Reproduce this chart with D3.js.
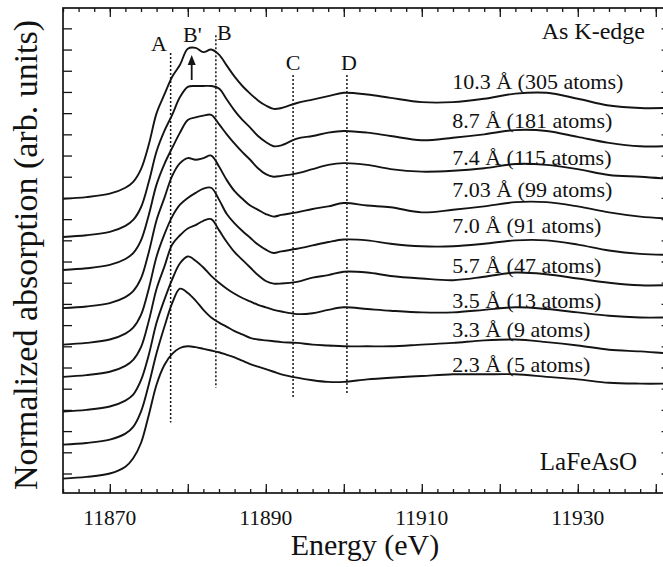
<!DOCTYPE html>
<html>
<head>
<meta charset="utf-8">
<script src="https://cdn.jsdelivr.net/npm/d3@7"></script>
<style>
  body { margin: 0; background: #fff; }
  text { font-family: 'Liberation Serif'; }
</style>
</head>
<body>
<svg id="chart" width="663" height="567"></svg>
<script>
// Photon energy grid (eV)
const energy = [11864, 11867, 11870, 11872, 11873, 11874, 11875, 11876, 11877, 11878,
  11879, 11880, 11881, 11882, 11883, 11884, 11885, 11886, 11887, 11888,
  11889, 11890, 11891, 11892, 11894, 11896, 11898, 11900, 11903, 11906,
  11910, 11914, 11918, 11922, 11926, 11930, 11934, 11938, 11941];

// Calculated As K-edge absorption for clusters of increasing radius
const muR103 = [0,0.02,0.06,0.13,0.20,0.35,0.64,1.01,1.23,1.44, 1.58,1.77,1.78,1.73,1.76,1.70,1.57,1.44,1.33,1.24, 1.16,1.10,1.06,1.07,1.13,1.17,1.21,1.25,1.23,1.19, 1.14,1.14,1.18,1.24,1.25,1.18,1.10,1.07,1.07];
const muR87  = [0,0.02,0.06,0.13,0.20,0.35,0.65,1.01,1.25,1.44, 1.65,1.77,1.78,1.78,1.78,1.75,1.62,1.49,1.38,1.29, 1.19,1.12,1.07,1.08,1.16,1.19,1.23,1.25,1.23,1.19, 1.14,1.17,1.21,1.26,1.25,1.18,1.11,1.07,1.07];
const muR74  = [0,0.02,0.06,0.13,0.20,0.35,0.65,1.01,1.25,1.44, 1.62,1.77,1.80,1.82,1.83,1.72,1.60,1.49,1.39,1.30, 1.20,1.13,1.10,1.11,1.14,1.19,1.24,1.26,1.24,1.19, 1.16,1.17,1.20,1.25,1.24,1.19,1.12,1.10,1.08];
const muR703 = [0,0.02,0.06,0.13,0.20,0.35,0.66,1.04,1.30,1.56, 1.71,1.77,1.75,1.77,1.80,1.67,1.51,1.38,1.29,1.21, 1.16,1.11,1.08,1.10,1.13,1.17,1.20,1.24,1.21,1.19, 1.13,1.16,1.20,1.25,1.25,1.20,1.13,1.08,1.06];
const muR70  = [0,0.02,0.06,0.13,0.20,0.35,0.66,1.04,1.30,1.51, 1.65,1.73,1.79,1.84,1.85,1.71,1.54,1.43,1.34,1.26, 1.18,1.12,1.08,1.10,1.13,1.17,1.21,1.24,1.23,1.19, 1.16,1.16,1.19,1.23,1.23,1.18,1.11,1.07,1.06];
const muR57  = [0,0.02,0.06,0.13,0.20,0.35,0.66,1.04,1.30,1.56, 1.67,1.75,1.79,1.84,1.86,1.73,1.59,1.47,1.38,1.29, 1.20,1.13,1.10,1.10,1.12,1.17,1.20,1.24,1.23,1.19, 1.16,1.14,1.18,1.23,1.21,1.16,1.11,1.08,1.08];
const muR35  = [0,0.02,0.06,0.13,0.20,0.37,0.67,1.05,1.32,1.56, 1.75,1.83,1.78,1.70,1.60,1.52,1.45,1.39,1.34,1.30, 1.26,1.23,1.20,1.18,1.15,1.16,1.20,1.23,1.21,1.19, 1.17,1.17,1.20,1.23,1.21,1.17,1.13,1.11,1.11];
const muR33  = [0,0.02,0.06,0.13,0.21,0.39,0.71,1.08,1.39,1.67, 1.84,1.79,1.70,1.59,1.50,1.44,1.39,1.34,1.30,1.26, 1.24,1.23,1.22,1.21,1.20,1.18,1.17,1.16,1.16,1.16, 1.18,1.20,1.23,1.24,1.21,1.17,1.12,1.10,1.08];
const muR23  = [0,0.02,0.06,0.14,0.24,0.42,0.75,1.11,1.34,1.47, 1.54,1.56,1.55,1.53,1.51,1.49,1.46,1.43,1.39,1.35, 1.32,1.29,1.26,1.23,1.19,1.16,1.14,1.14,1.17,1.19, 1.21,1.23,1.23,1.23,1.20,1.17,1.13,1.12,1.12];

// Cluster labels, vertical stacking offsets and label heights (absorption units)
const clusterLabels = ["10.3 Å (305 atoms)", "8.7 Å (181 atoms)", "7.4 Å (115 atoms)",
  "7.03 Å (99 atoms)", "7.0 Å (91 atoms)", "5.7 Å (47 atoms)",
  "3.5 Å (13 atoms)", "3.3 Å (9 atoms)", "2.3 Å (5 atoms)"];
const offsets = [3.49, 3.04, 2.65, 2.20, 1.77, 1.39, 0.98, 0.59, 0.19];
const labelLevels = [4.78, 4.32, 3.89, 3.51, 3.09, 2.61, 2.20, 1.86, 1.45];

// Spectral features marked by dotted lines: energy and vertical extent
const featureEnergy = [11877.8, 11883.6, 11893.5, 11900.4];
const featureTop = [5.21, 5.42, 4.95, 4.95];
const featureBottom = [0.85, 1.26, 1.14, 1.20];
const arrowEnergy = 11880.5;

// Axis ticks
const xLabelTicks = [11870, 11890, 11910, 11930];
const xMajorTicks = d3.range(11870, 11941, 10);
const xMinorTicks = d3.range(11864, 11941, 2);
const yTicks = d3.range(0.25, 5.6, 0.25);

const muSeries = [muR103, muR87, muR74, muR703, muR70, muR57, muR35, muR33, muR23];
const spectra = muSeries.map((mu, i) => ({
  label: clusterLabels[i], offset: offsets[i], labelLevel: labelLevels[i],
  points: energy.map((e, j) => ({ e, v: offsets[i] + mu[j] }))
}));

const svg = d3.select("#chart");
const L = 63, T = 8, B = 493;
const x = d3.scaleLinear().domain([11864, 11941.9]).range([L, 670.6]);
const y = d3.scaleLinear().domain([0.02, 5.74]).range([B, T]);
const R = x(11941.9);

const ink = "#141414";

// Axes with inward ticks
function addAxis(axis, tf) {
  const g = svg.append("g").attr("transform", tf).call(axis);
  g.select(".domain").remove();
  g.selectAll("line").attr("stroke", ink).attr("stroke-width", 1.3);
  g.selectAll("text").remove();
  return g;
}
addAxis(d3.axisBottom(x).tickValues(xMinorTicks).tickSize(-4), `translate(0,${B})`);
addAxis(d3.axisBottom(x).tickValues(xMajorTicks).tickSize(-9), `translate(0,${B})`);
addAxis(d3.axisTop(x).tickValues(xMinorTicks).tickSize(-4), `translate(0,${T})`);
addAxis(d3.axisTop(x).tickValues(xMajorTicks).tickSize(-9), `translate(0,${T})`);
addAxis(d3.axisLeft(y).tickValues(yTicks).tickSize(-9), `translate(${L},0)`);
addAxis(d3.axisRight(y).tickValues(yTicks).tickSize(-9), `translate(${R},0)`);

// Frame
svg.append("rect").attr("x", L).attr("y", T).attr("width", R - L).attr("height", B - T)
  .attr("fill", "none").attr("stroke", ink).attr("stroke-width", 1.7);

// Dotted feature markers
svg.append("g").selectAll("line").data(featureEnergy).join("line")
  .attr("x1", d => x(d)).attr("x2", d => x(d))
  .attr("y1", (d, i) => y(featureTop[i])).attr("y2", (d, i) => y(featureBottom[i]))
  .attr("stroke", ink).attr("stroke-width", 1.5).attr("stroke-dasharray", "2,2");

// Spectra
const line = d3.line().x(d => x(d.e)).y(d => y(d.v)).curve(d3.curveCatmullRom.alpha(0.5));
svg.append("g").selectAll("path").data(spectra).join("path")
  .attr("d", d => line(d.points))
  .attr("fill", "none").attr("stroke", ink).attr("stroke-width", 1.9)
  .attr("stroke-linejoin", "round");

// Arrow pointing to B'
const ax = x(arrowEnergy);
svg.append("line").attr("x1", ax).attr("x2", ax).attr("y1", 80).attr("y2", 62)
  .attr("stroke", ink).attr("stroke-width", 1.8);
svg.append("path").attr("d", `M${ax},55 L${ax - 4},65 L${ax + 4},65 Z`).attr("fill", ink);

// All text: tick labels, titles, cluster labels, feature letters, annotations
const texts = [];
xLabelTicks.forEach(t => texts.push({ t: String(t), x: x(t), y: 525, s: 21.5, a: "middle" }));
texts.push({ t: "Energy (eV)", x: 365, y: 555, s: 30, a: "middle" });
texts.push({ t: "Normalized absorption (arb. units)", x: 0, y: 0, s: 34, a: "middle",
  tf: "translate(37,255) rotate(-90)" });
spectra.forEach(sp => texts.push({ t: sp.label, x: x(11913.9), y: y(sp.labelLevel), s: 22, a: "start" }));
texts.push({ t: "A", x: 159, y: 51, s: 22, a: "middle" });
texts.push({ t: "B'", x: 183, y: 41.5, s: 22, a: "start" });
texts.push({ t: "B", x: 217, y: 40, s: 22, a: "start" });
texts.push({ t: "C", x: x(featureEnergy[2]), y: 70, s: 22, a: "middle" });
texts.push({ t: "D", x: x(featureEnergy[3]) + 2, y: 70, s: 22, a: "middle" });
texts.push({ t: "As K-edge", x: 645, y: 39, s: 24, a: "end" });
texts.push({ t: "LaFeAsO", x: 637, y: 470, s: 25, a: "end" });

texts.forEach(d => {
  const el = svg.append("text")
    .attr("x", d.x).attr("y", d.y)
    .attr("text-anchor", d.a)
    .attr("fill", "#111")
    .attr("font-family", "Liberation Serif")
    .attr("font-size", d.s)
    .style("font-family", `"Liberation Serif"`)
    .style("font-size", `${d.s}px`)
    .text(d.t);
  if (d.tf) el.attr("transform", d.tf);
});
</script>
</body>
</html>
